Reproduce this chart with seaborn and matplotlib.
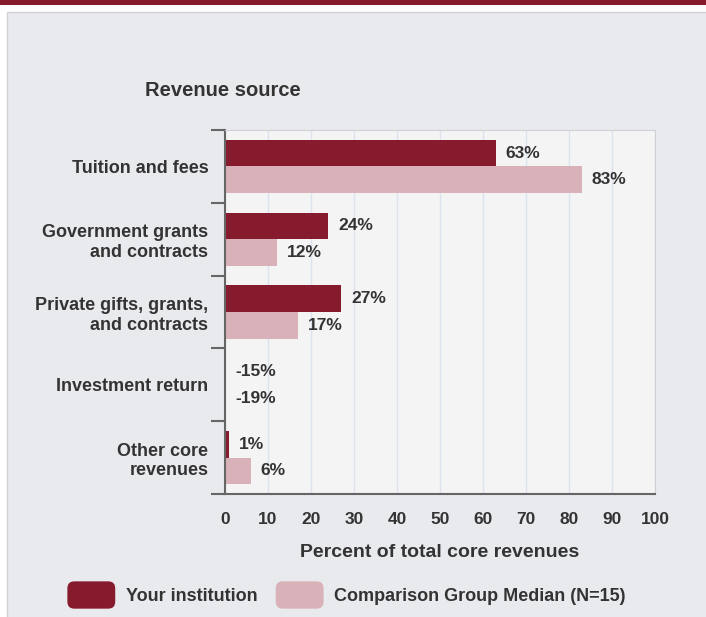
import pandas as pd
import seaborn as sns
import matplotlib.pyplot as plt
from matplotlib.patches import Patch, Rectangle, FancyBboxPatch
from matplotlib.legend_handler import HandlerPatch
from matplotlib.ticker import FixedLocator

categories = ["Tuition and fees", "Government grants\nand contracts",
              "Private gifts, grants,\nand contracts", "Investment return",
              "Other core\nrevenues"]
your_inst = [63, 24, 27, -15, 1]
comp_median = [83, 12, 17, -19, 6]
series = ["Your institution", "Comparison Group Median (N=15)"]
colors = ["#861b2e", "#d8b2b8"]
xticks = list(range(0, 101, 10))

df = pd.DataFrame({
    "Revenue source": categories * 2,
    "Percent": your_inst + comp_median,
    "Group": [series[0]] * len(categories) + [series[1]] * len(categories),
})


class RoundHandler(HandlerPatch):
    # rounded legend swatches
    def create_artists(self, legend, orig_handle, xdescent, ydescent, width, height,
                       fontsize, trans):
        p = FancyBboxPatch((-xdescent, -ydescent), width, height,
                           boxstyle="round,pad=0,rounding_size=5",
                           facecolor=orig_handle.get_facecolor(), edgecolor="none",
                           transform=trans)
        return [p]


sns.set_style("white")
plt.rcParams["font.family"] = ["Liberation Sans", "DejaVu Sans"]
txt = "#333333"

fig = plt.figure(figsize=(7.06, 6.17), dpi=100, facecolor="white")
# panel background + top strip
fig.patches.append(Rectangle((7 / 706, -0.01), 1.0, (617 - 12) / 617 + 0.01,
                             transform=fig.transFigure, facecolor="#e9eaee",
                             edgecolor="#d2d2d6", linewidth=1, zorder=-2))
fig.patches.append(Rectangle((0, 1 - 5 / 617), 1, 5 / 617, transform=fig.transFigure,
                             facecolor="#861b2e", edgecolor="none", zorder=-1))

ax = fig.add_axes([225 / 706, 1 - 494 / 617, 430 / 706, 364 / 617])
sns.barplot(data=df, y="Revenue source", x="Percent", hue="Group", orient="h",
            palette=colors, width=0.73, saturation=1, legend=False, linewidth=0, ax=ax)

ax.set_facecolor("#f4f4f4")
ax.set_xlim(0, 100)
ax.set_ylim(4.5, -0.5)
ax.set_xticks(xticks)
ax.grid(axis="x", color="#dce3ef", linewidth=1)
ax.set_axisbelow(True)

for bars in ax.containers:
    for bar, v in zip(bars, bars.datavalues):
        ax.text(max(v, 0) + 2.3, bar.get_y() + bar.get_height() / 2, f"{v:.0f}%",
                va="center", ha="left", fontsize=12.5, fontweight="bold", color=txt)

for s in ["top", "right"]:
    ax.spines[s].set_color("#cfd0d4")
for s in ["left", "bottom"]:
    ax.spines[s].set_color("#666666")
    ax.spines[s].set_linewidth(1.5)

ax.yaxis.set_minor_locator(FixedLocator([i - 0.5 for i in range(len(categories) + 1)]))
ax.tick_params(axis="y", which="minor", length=10, width=1.5, color="#666666", left=True)
ax.tick_params(axis="y", which="major", length=0, pad=12, labelsize=13, labelcolor=txt)
ax.tick_params(axis="x", length=0, pad=13, labelsize=12.5, labelcolor=txt)
for lab in ax.get_yticklabels() + ax.get_xticklabels():
    lab.set_fontweight("bold")

ax.set_ylabel("")
ax.set_xlabel("Percent of total core revenues", fontsize=14, fontweight="bold",
              color=txt, labelpad=12)
fig.text(145 / 706, 1 - 91 / 617, "Revenue source", fontsize=14.5, fontweight="bold",
         color=txt, ha="left", va="center")

handles = [Patch(facecolor=c) for c in colors]
leg = fig.legend(handles, series, loc="center", bbox_to_anchor=(0.491, 1 - 595 / 617),
                 ncol=2, frameon=False, handlelength=2.65, handleheight=1.95,
                 handletextpad=0.6, columnspacing=1.0,
                 handler_map={Patch: RoundHandler()},
                 prop={"size": 13, "weight": "bold"})
for t in leg.get_texts():
    t.set_color(txt)

fig.savefig("out.png", dpi=100, facecolor=fig.get_facecolor())
